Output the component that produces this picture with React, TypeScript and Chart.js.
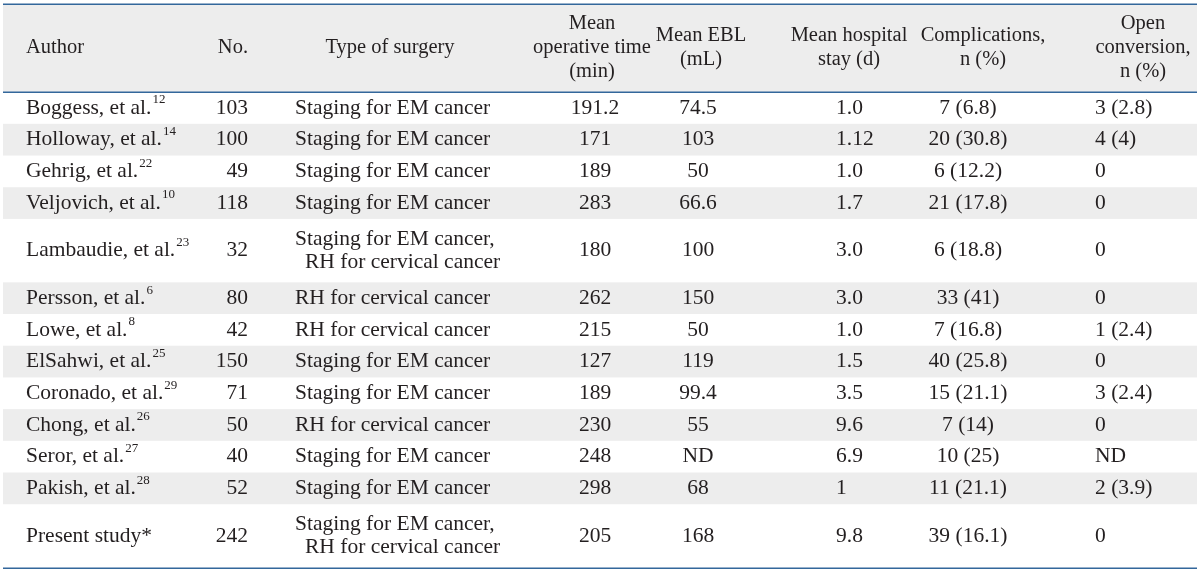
import React, { useEffect, useRef } from "react";
import { Chart, registerables } from "chart.js";

Chart.register(...registerables);

// ---------- data ----------
const authors = [
  "Boggess, et al.",
  "Holloway, et al.",
  "Gehrig, et al.",
  "Veljovich, et al.",
  "Lambaudie, et al.",
  "Persson, et al.",
  "Lowe, et al.",
  "ElSahwi, et al.",
  "Coronado, et al.",
  "Chong, et al.",
  "Seror, et al.",
  "Pakish, et al.",
  "Present study*",
];
const refs = ["12", "14", "22", "10", "23", "6", "8", "25", "29", "26", "27", "28", ""];
const patients = ["103", "100", "49", "118", "32", "80", "42", "150", "71", "50", "40", "52", "242"];
const surgery = [
  ["Staging for EM cancer"],
  ["Staging for EM cancer"],
  ["Staging for EM cancer"],
  ["Staging for EM cancer"],
  ["Staging for EM cancer,", "RH for cervical cancer"],
  ["RH for cervical cancer"],
  ["RH for cervical cancer"],
  ["Staging for EM cancer"],
  ["Staging for EM cancer"],
  ["RH for cervical cancer"],
  ["Staging for EM cancer"],
  ["Staging for EM cancer"],
  ["Staging for EM cancer,", "RH for cervical cancer"],
];
const operativeTime = ["191.2", "171", "189", "283", "180", "262", "215", "127", "189", "230", "248", "298", "205"];
const meanEBL = ["74.5", "103", "50", "66.6", "100", "150", "50", "119", "99.4", "55", "ND", "68", "168"];
const hospitalStay = ["1.0", "1.12", "1.0", "1.7", "3.0", "3.0", "1.0", "1.5", "3.5", "9.6", "6.9", "1", "9.8"];
const complications = [
  "7 (6.8)", "20 (30.8)", "6 (12.2)", "21 (17.8)", "6 (18.8)", "33 (41)", "7 (16.8)",
  "40 (25.8)", "15 (21.1)", "7 (14)", "10 (25)", "11 (21.1)", "39 (16.1)",
];
const openConversion = ["3 (2.8)", "4 (4)", "0", "0", "0", "0", "1 (2.4)", "0", "3 (2.4)", "0", "ND", "2 (3.9)", "0"];

const headers = [
  ["Author"],
  ["No."],
  ["Type of surgery"],
  ["Mean", "operative time", "(min)"],
  ["Mean EBL", "(mL)"],
  ["Mean hospital", "stay (d)"],
  ["Complications,", "n (%)"],
  ["Open", "conversion,", "n (%)"],
];

// ---------- layout / style ----------
const HEADER_UNITS = 2.78;
const ROW_PX = 31.7;
const FONT = '"Liberation Serif", "Times New Roman", serif';
const FONT_PX = 21.5;
const HEADER_FONT_PX = 20.5;
const TEXT_COLOR = "#231f20";
const BAND_COLOR = "#ededed";
const RULE_COLOR = "#33679b";

export default function App() {
  const ref = useRef<HTMLCanvasElement>(null);

  useEffect(() => {
    document.body.style.margin = "0";
    const rowSpans = surgery.map((s) => s.length);
    const starts: number[] = [];
    let acc = HEADER_UNITS;
    rowSpans.forEach((s) => {
      starts.push(acc);
      acc += s;
    });
    const total = acc;

    const tablePlugin = {
      id: "tableDraw",
      beforeDatasetsDraw(chart: any) {
        const { ctx, scales } = chart;
        const x = scales.x;
        const y = scales.y;
        const X = (v: number) => x.getPixelForValue(v);
        const Y = (v: number) => y.getPixelForValue(v);
        ctx.save();

        const left = X(3);
        const right = X(1197);

        ctx.fillStyle = BAND_COLOR;
        ctx.fillRect(left, Y(0), right - left, Y(HEADER_UNITS) - Y(0));
        starts.forEach((s, i) => {
          if (i % 2 === 1) {
            ctx.fillRect(left, Y(s), right - left, Y(s + rowSpans[i]) - Y(s));
          }
        });

        ctx.strokeStyle = RULE_COLOR;
        ctx.lineWidth = 1.6;
        [0, HEADER_UNITS, total].forEach((u) => {
          const py = Math.round(Y(u)) + 0.2;
          ctx.beginPath();
          ctx.moveTo(left, py);
          ctx.lineTo(right, py);
          ctx.stroke();
        });

        ctx.fillStyle = TEXT_COLOR;
        ctx.textBaseline = "middle";
        const bodyFont = `${FONT_PX}px ${FONT}`;

        const draw = (t: string, px: number, py: number, align: CanvasTextAlign) => {
          ctx.textAlign = align;
          ctx.fillText(t, px, py);
        };
        const drawLines = (lines: string[], px: number, cy: number, align: CanvasTextAlign, spacing: number) => {
          const n = lines.length;
          lines.forEach((l, k) => {
            draw(l, px, cy + (k - (n - 1) / 2) * spacing, align);
          });
        };

        ctx.font = `${HEADER_FONT_PX}px ${FONT}`;
        const hc = Y(HEADER_UNITS / 2);
        const hs = 24;
        const headerCols: [number, CanvasTextAlign][] = [
          [26, "left"],
          [248, "right"],
          [390, "center"],
          [592, "center"],
          [701, "center"],
          [849, "center"],
          [983, "center"],
          [1143, "center"],
        ];
        headers.forEach((h, i) => {
          const [cx, al] = headerCols[i];
          drawLines(h, X(cx), hc, al, hs);
        });

        starts.forEach((s, i) => {
          const cy = Y(s + rowSpans[i] / 2);
          ctx.font = bodyFont;
          draw(authors[i], X(26), cy, "left");
          if (refs[i]) {
            const w = ctx.measureText(authors[i]).width;
            ctx.font = `13px ${FONT}`;
            draw(refs[i], X(26) + w + 1, cy - 8, "left");
            ctx.font = bodyFont;
          }
          draw(patients[i], X(248), cy, "right");
          if (surgery[i].length === 1) {
            draw(surgery[i][0], X(295), cy, "left");
          } else {
            draw(surgery[i][0], X(295), cy - 11.5, "left");
            draw(surgery[i][1], X(305), cy + 11.5, "left");
          }
          draw(operativeTime[i], X(595), cy, "center");
          draw(meanEBL[i], X(698), cy, "center");
          draw(hospitalStay[i], X(836), cy, "left");
          draw(complications[i], X(968), cy, "center");
          draw(openConversion[i], X(1095), cy, "left");
        });

        ctx.restore();
      },
    };

    const topPad = 4 / ROW_PX;
    const chart = new Chart(ref.current as HTMLCanvasElement, {
      type: "scatter",
      data: { datasets: [{ data: [] }] },
      options: {
        animation: false,
        responsive: false,
        maintainAspectRatio: false,
        layout: { padding: 0 },
        plugins: { legend: { display: false }, tooltip: { enabled: false } },
        scales: {
          x: { type: "linear", min: 0, max: 1200, display: false },
          y: { type: "linear", min: -topPad, max: -topPad + 573 / ROW_PX, reverse: true, display: false },
        },
      },
      plugins: [tablePlugin],
    });
    return () => chart.destroy();
  }, []);

  return (
    <div style={{ width: 1200, height: 573, background: "#fff" }}>
      <canvas ref={ref} width={1200} height={573} style={{ display: "block" }} />
    </div>
  );
}
